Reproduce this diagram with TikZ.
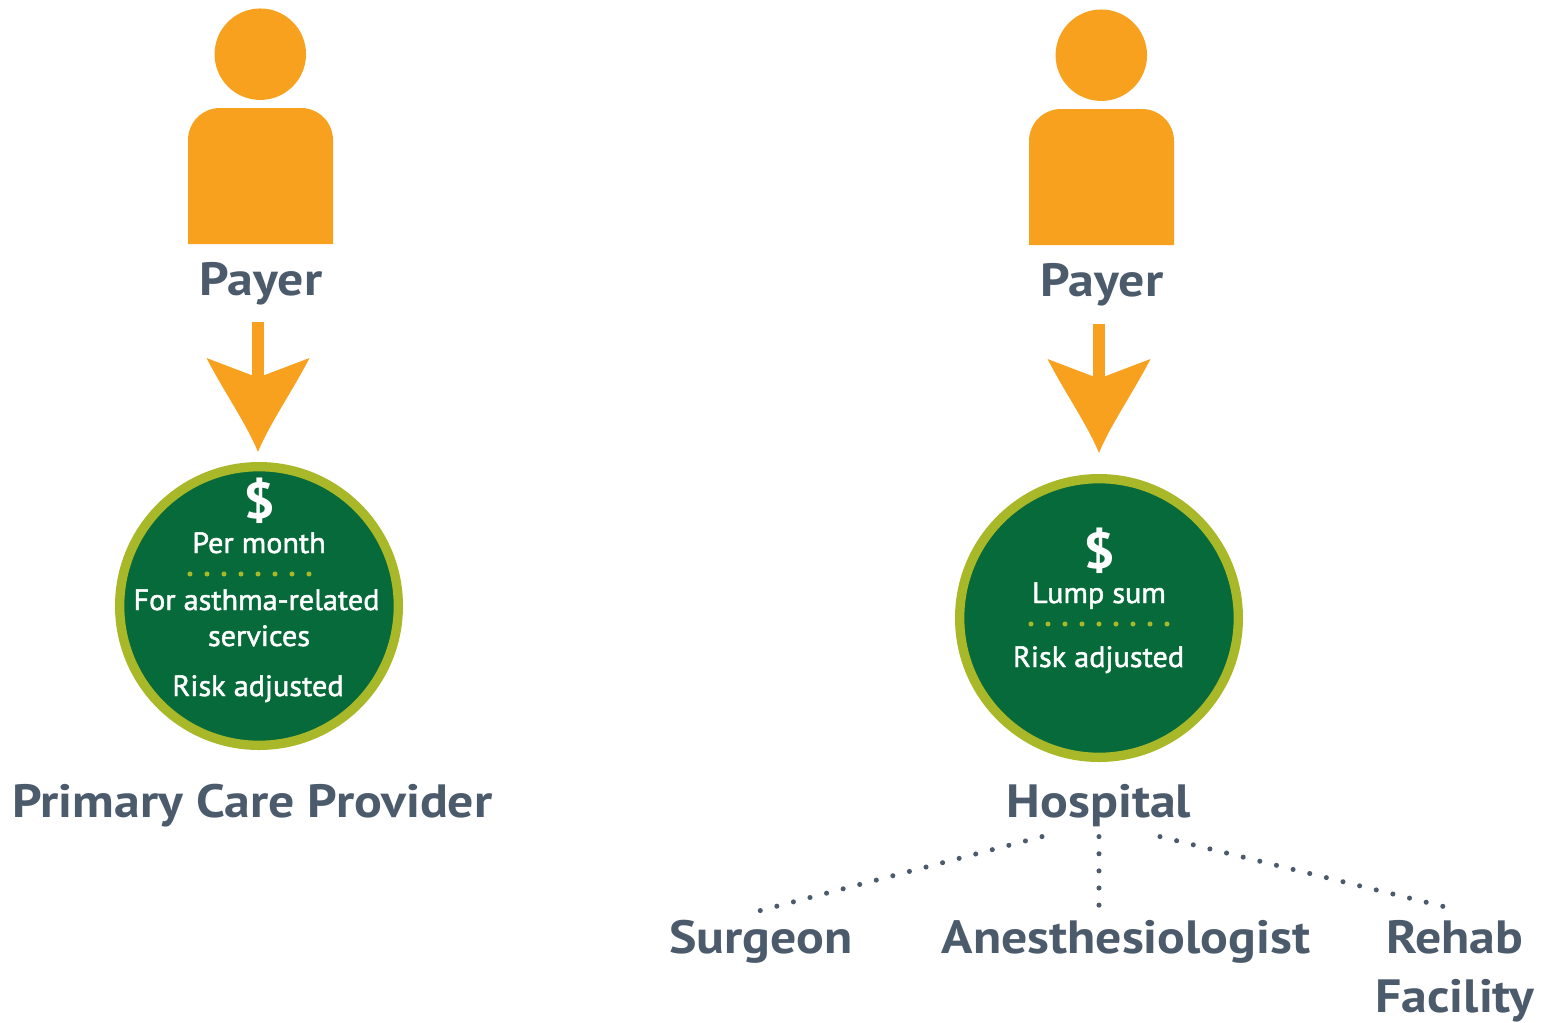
\documentclass[tikz,border=0pt]{standalone}
\usepackage{amssymb,amsmath}
\usepackage{fontspec}
\setmainfont{PT Sans}
\newfontfamily\titlefont[FakeStretch=1.11]{PT Sans}
\newfontfamily\smallfont[FakeStretch=1.03,FakeBold=1.6]{PT Sans}
\usepackage{tikz}

\definecolor{payorange}{RGB}{247,161,30}
\definecolor{slatetext}{RGB}{76,91,108}
\definecolor{darkgreen}{RGB}{7,106,58}
\definecolor{ringgreen}{RGB}{168,184,40}

\pgfdeclarearrow{
  name=PayTip,
  setup code={
    \pgfarrowssettipend{0pt}
    \pgfarrowssetbackend{-70.5pt}
    \pgfarrowssetlineend{-55pt}
    \pgfarrowssetvisualbackend{-55pt}
    \pgfarrowshullpoint{0pt}{0pt}
    \pgfarrowshullpoint{-70.5pt}{38.6pt}
    \pgfarrowshullpoint{-70.5pt}{-38.6pt}
  },
  drawing code={
    \pgfpathmoveto{\pgfpoint{0pt}{0pt}}
    \pgfpathcurveto{\pgfpoint{-20pt}{8pt}}{\pgfpoint{-46pt}{26pt}}{\pgfpoint{-70.5pt}{38.6pt}}
    \pgfpathlineto{\pgfpoint{-57.5pt}{4.5pt}}
    \pgfpathlineto{\pgfpoint{-57.5pt}{-4.5pt}}
    \pgfpathlineto{\pgfpoint{-70.5pt}{-38.6pt}}
    \pgfpathcurveto{\pgfpoint{-46pt}{-26pt}}{\pgfpoint{-20pt}{-8pt}}{\pgfpoint{0pt}{0pt}}
    \pgfpathclose
    \pgfusepathqfill
  }
}

\tikzset{
  headshape/.style={circle,fill=payorange,inner sep=0pt,minimum size=68.6pt},
  payline/.style={draw=payorange,fill=payorange,line width=9pt,-{PayTip}},
  fundcircle/.style={circle,draw=ringgreen,fill=darkgreen,line width=7pt,inner sep=0pt,minimum size=209pt},
  title/.style={anchor=base,inner sep=0pt,text=slatetext,font=\titlefont\fontsize{35}{44.25}\selectfont\bfseries},
  small/.style={anchor=base,inner sep=0pt,text=white,font=\smallfont\fontsize{22}{26}\selectfont},
  dollar/.style={anchor=base,inner sep=0pt,text=white,font=\titlefont\fontsize{38}{44}\selectfont\bfseries},
  sepdots/.style={draw=ringgreen,line width=3.8pt,line cap=round,dash pattern=on 0pt off 12.75pt},
  linkdots/.style={draw=slatetext,line width=3.8pt,line cap=round,dash pattern=on 0pt off 12.85pt},
}

\begin{document}
\begin{tikzpicture}[x=0.75pt,y=0.75pt,yscale=-1,xscale=1]
\useasboundingbox (0,0) rectangle (1543,1022);

%Shape: Circle
\node [headshape] (head1) at (260.3,54.2) {};
%Shape: Body
\fill [payorange] (188,244) [rounded corners=24pt] -- (188,108) -- (333,108) [sharp corners] -- (333,244) -- cycle;
% Text Node
\node [title] (payer1) at (261,295) {Payer};

%Shape: Circle
\node [headshape] (head2) at (1101.3,55.2) {};
%Shape: Body
\fill [payorange] (1029,245) [rounded corners=24pt] -- (1029,109) -- (1174,109) [sharp corners] -- (1174,245) -- cycle;
% Text Node
\node [title] (payer2) at (1102,296) {Payer};

%Shape: Circle
\node [fundcircle] (fund1) at (259,606) {};
\node [fundcircle] (fund2) at (1099,618) {};

%Straight Lines
\coordinate (stem1) at (258,322);
\coordinate (stem2) at (1099,324);
\draw [payline,shorten >=7.5pt] (stem1) -- (stem1 |- fund1.north);
\draw [payline,shorten >=15.75pt] (stem2) -- (stem2 |- fund2.north);

% Text Node
\node [dollar] (sign1) at (259,518) {\$};
\node [small] (permonth) at (259,553) {Per month};
\node [small] (asthma) at (256.5,610) {For asthma-related};
\node [small] (services) at (259,646) {services};
\node [small] (risk1) at (258,696) {Risk adjusted};
\node [dollar] (sign2) at (1099,568) {\$};
\node [small] (lumpsum) at (1099,603) {Lump sum};
\node [small] (risk2) at (1098.5,667) {Risk adjusted};

%Straight Lines
\coordinate (sepa1) at (190,574);
\coordinate (sepb1) at (312,574);
\coordinate (sepa2) at (1031,624);
\coordinate (sepb2) at (1168,624);
\draw [sepdots] (sepa1) -- (sepb1);
\draw [sepdots] (sepa2) -- (sepb2);

% Text Node
\node [title] (provider) at (252.5,817) {Primary Care Provider};
\node [title] (hospital) at (1099,817) {Hospital};
\node [title] (surgeon) at (761,953) {Surgeon};
\node [title] (anesth) at (1126,953) {Anesthesiologist};
\node [title,align=center] (rehab) at (1455,1012) {Rehab\\Facility};

%Straight Lines
\draw [linkdots] ([shift={(-57,10)}]hospital.south) -- ([shift={(-4,-8)}]surgeon.north);
\draw [linkdots] ([shift={(0,10)}]hospital.south) -- (hospital.south |- anesth.north);
\draw [linkdots] ([shift={(61,10)}]hospital.south) -- ([shift={(-7,-12)}]rehab.north);

\end{tikzpicture}
\end{document}
